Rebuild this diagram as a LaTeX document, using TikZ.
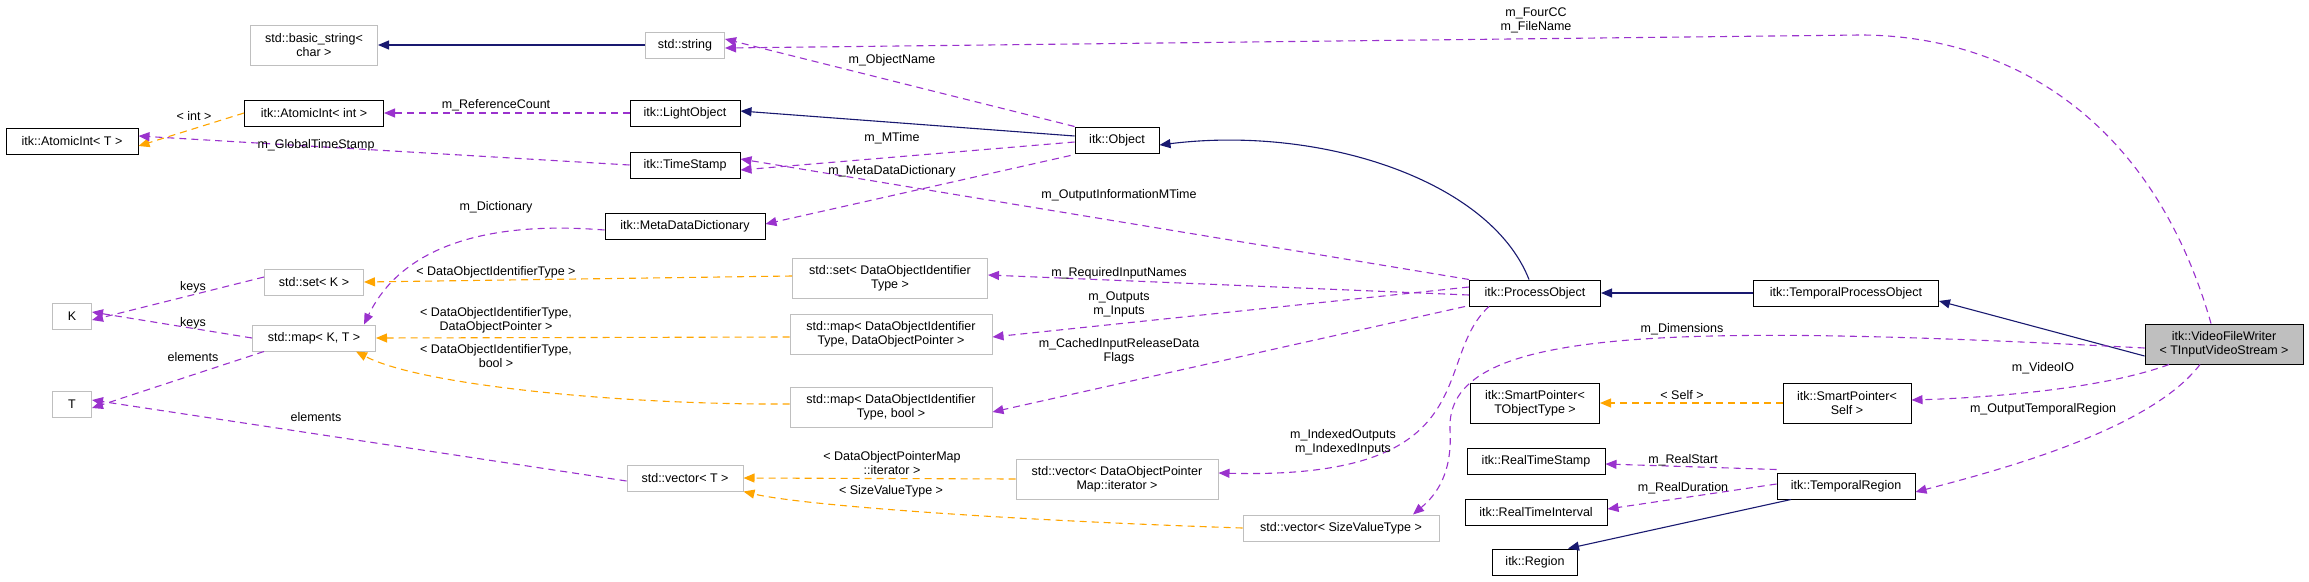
\documentclass[tikz,border=0pt]{standalone}
\usepackage{fontspec}
\setmainfont{Liberation Sans}
\usetikzlibrary{arrows.meta}
\definecolor{inh}{HTML}{191970}
\definecolor{use}{HTML}{9A32CD}
\definecolor{tpl}{HTML}{FFA500}
\definecolor{gb}{HTML}{BFBFBF}
\tikzset{
  box/.style={draw=black,line width=1pt,inner sep=0pt,align=center,font=\fontsize{12.5}{14}\selectfont},
  gbox/.style={box,draw=gb},
  lbl/.style={align=center,inner sep=0pt,font=\fontsize{12.5}{14}\selectfont},
  inhe/.style={draw=inh,line width=1.1pt,-{Triangle[length=11pt,width=9pt]}},
  usee/.style={draw=use,line width=1.1pt,dash pattern=on 7pt off 5pt,-{Triangle[length=11pt,width=9pt]}},
  tple/.style={draw=tpl,line width=1.1pt,dash pattern=on 7pt off 5pt,-{Triangle[length=11pt,width=9pt]}},
}
\begin{document}
\begin{tikzpicture}[x=1pt,y=-1pt]
\useasboundingbox (0,0) rectangle (2309,581);
% nodes
\node[gbox,minimum width=127,minimum height=40] (bs) at (314,45) {std::basic\_string<\\char >};
\node[gbox,minimum width=79,minimum height=26] (str) at (685,45) {std::string};
\node[box,minimum width=139,minimum height=26] (aint) at (314,113) {itk::AtomicInt< int >};
\node[box,minimum width=110,minimum height=26] (light) at (685,113) {itk::LightObject};
\node[box,minimum width=132,minimum height=26] (aT) at (72,141) {itk::AtomicInt< T >};
\node[box,minimum width=110,minimum height=26] (ts) at (685,165) {itk::TimeStamp};
\node[box,minimum width=160,minimum height=26] (mdd) at (685,226) {itk::MetaDataDictionary};
\node[box,minimum width=84,minimum height=26] (obj) at (1117,140) {itk::Object};
\node[gbox,minimum width=99,minimum height=26] (setK) at (314,282) {std::set< K >};
\node[gbox,minimum width=39,minimum height=26] (K) at (72,316) {K};
\node[gbox,minimum width=123,minimum height=26] (mapKT) at (314,338) {std::map< K, T >};
\node[gbox,minimum width=39,minimum height=26] (T) at (72,404) {T};
\node[gbox,minimum width=116,minimum height=26] (vecT) at (685,478) {std::vector< T >};
\node[gbox,minimum width=195,minimum height=40] (setD) at (890,278) {std::set< DataObjectIdentifier\\Type >};
\node[gbox,minimum width=202,minimum height=40] (mapD) at (891,334) {std::map< DataObjectIdentifier\\Type, DataObjectPointer >};
\node[gbox,minimum width=202,minimum height=40] (mapB) at (891,407) {std::map< DataObjectIdentifier\\Type, bool >};
\node[gbox,minimum width=202,minimum height=40] (vecD) at (1117,479) {std::vector< DataObjectPointer\\Map::iterator >};
\node[gbox,minimum width=196,minimum height=26] (vecS) at (1341,528) {std::vector< SizeValueType >};
\node[box,minimum width=131,minimum height=26] (po) at (1535,293) {itk::ProcessObject};
\node[box,minimum width=185,minimum height=26] (tpo) at (1846,293) {itk::TemporalProcessObject};
\node[box,fill=gb,minimum width=158,minimum height=40] (vfw) at (2224,344) {itk::VideoFileWriter\\< TInputVideoStream >};
\node[box,minimum width=129,minimum height=40] (spT) at (1535,403) {itk::SmartPointer<\\TObjectType >};
\node[box,minimum width=128,minimum height=40] (spS) at (1847,403) {itk::SmartPointer<\\Self >};
\node[box,minimum width=138,minimum height=26] (rts) at (1536,461) {itk::RealTimeStamp};
\node[box,minimum width=142,minimum height=26] (rti) at (1536,512) {itk::RealTimeInterval};
\node[box,minimum width=85,minimum height=26] (reg) at (1535,562) {itk::Region};
\node[box,minimum width=138,minimum height=26] (treg) at (1846,486) {itk::TemporalRegion};
% inheritance
\draw[inhe] (str.west) -- (bs.east);
\draw[inhe] ([yshift=4]obj.west) -- ([yshift=2]light.east);
\draw[inhe] ([xshift=-6]po.north) .. controls (1490,180) and (1320,125) .. ([yshift=-5]obj.east);
\draw[inhe] (tpo.west) -- (po.east);
\draw[inhe] ([yshift=-12]vfw.west) -- ([yshift=-8]tpo.east);
\draw[inhe] ([xshift=-55]treg.south) -- ([xshift=-10]reg.north east);
% templates
\draw[tple] (aint.west) -- ([yshift=-5]aT.east);
\node[lbl] at (194,116) {< int >};
\draw[tple] ([yshift=2]setD.west) -- (setK.east);
\node[lbl] at (496,272) {< DataObjectIdentifierType >};
\draw[tple] ([yshift=-3]mapD.west) -- (mapKT.east);
\node[lbl] at (496,320) {< DataObjectIdentifierType,\\DataObjectPointer >};
\draw[tple] ([yshift=3]mapB.west) .. controls (620,405) and (420,385) .. ([xshift=-20]mapKT.south east);
\node[lbl] at (496,356) {< DataObjectIdentifierType,\\bool >};
\draw[tple] (vecD.west) -- (vecT.east);
\node[lbl] at (892,463) {< DataObjectPointerMap\\::iterator >};
\draw[tple] (vecS.west) .. controls (1000,520) and (800,505) .. (vecT.south east);
\node[lbl] at (891,491) {< SizeValueType >};
\draw[tple] (spS.west) -- (spT.east);
\node[lbl] at (1682,395) {< Self >};
% usage
\draw[usee] (obj.north west) -- ([yshift=6]str.east);
\node[lbl] at (892,60) {m\_ObjectName};
\draw[usee] ([xshift=-13]vfw.north) .. controls (2150,110) and (2000,35) .. (1860,35) -- ([yshift=-3]str.east);
\node[lbl] at (1536,20) {m\_FourCC\\m\_FileName};
\draw[usee] (light.west) -- (aint.east);
\node[lbl] at (496,105) {m\_ReferenceCount};
\draw[usee] (ts.west) -- ([yshift=5]aT.east);
\node[lbl] at (316,145) {m\_GlobalTimeStamp};
\draw[usee] ([yshift=-2]obj.west) -- ([yshift=-5]ts.east);
\node[lbl] at (892,138) {m\_MTime};
\draw[usee] (po.north west) -- ([yshift=6]ts.east);
\node[lbl] at (1119,195) {m\_OutputInformationMTime};
\draw[usee] ([xshift=-4,yshift=-2]obj.south west) -- ([yshift=2]mdd.east);
\node[lbl] at (892,171) {m\_MetaDataDictionary};
\draw[usee] ([yshift=-4]mdd.west) .. controls (480,220) and (400,250) .. ([xshift=-12]mapKT.north east);
\node[lbl] at (496,207) {m\_Dictionary};
\draw[usee] ([yshift=5]setK.west) -- ([yshift=-4]K.east);
\node[lbl] at (193,287) {keys};
\draw[usee] (mapKT.west) -- ([yshift=4]K.east);
\node[lbl] at (193,323) {keys};
\draw[usee] ([xshift=12]mapKT.south west) -- ([yshift=-4]T.east);
\node[lbl] at (193,357) {elements};
\draw[usee] ([yshift=-3]vecT.west) -- ([yshift=4]T.east);
\node[lbl] at (316,417) {elements};
\draw[usee] ([yshift=-2]po.west) -- ([yshift=3]setD.east);
\node[lbl] at (1119,273) {m\_RequiredInputNames};
\draw[usee] ([yshift=6]po.west) -- ([yshift=-3]mapD.east);
\node[lbl] at (1119,304) {m\_Outputs\\m\_Inputs};
\draw[usee] ([xshift=-4]po.south west) -- ([yshift=-5]mapB.east);
\node[lbl] at (1119,351) {m\_CachedInputReleaseData\\Flags};
\draw[usee] ([xshift=20]po.south west) .. controls (1430,360) and (1490,480) .. ([yshift=6]vecD.east);
\node[lbl] at (1343,442) {m\_IndexedOutputs\\m\_IndexedInputs};
\draw[usee] ([yshift=-4]vfw.west) .. controls (1650,322) and (1445,330) .. (1450,430) .. controls (1453,480) and (1430,500) .. ([xshift=72]vecS.north);
\node[lbl] at (1682,329) {m\_Dimensions};
\draw[usee] ([xshift=-55]vfw.south) .. controls (2100,390) and (1980,398) .. ([yshift=3]spS.east);
\node[lbl] at (2043,368) {m\_VideoIO};
\draw[usee] ([xshift=-24]vfw.south) .. controls (2150,430) and (2000,470) .. ([yshift=-6]treg.east);
\node[lbl] at (2043,409) {m\_OutputTemporalRegion};
\draw[usee] ([yshift=3]treg.north west) -- ([yshift=-3]rts.east);
\node[lbl] at (1683,460) {m\_RealStart};
\draw[usee] ([yshift=2]treg.west) -- ([yshift=3]rti.east);
\node[lbl] at (1683,488) {m\_RealDuration};
\end{tikzpicture}
\end{document}
